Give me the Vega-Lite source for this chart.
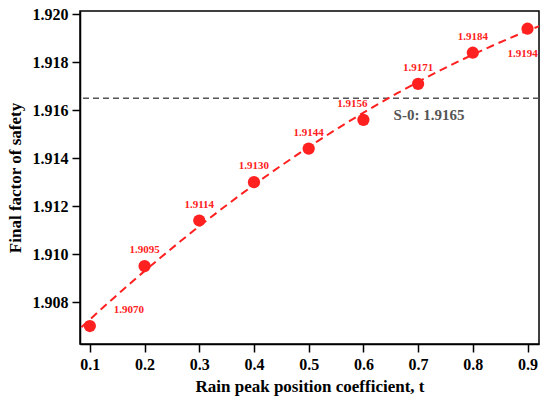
{
  "$schema": "https://vega.github.io/schema/vega-lite/v6.json",
  "width": 459,
  "height": 333,
  "autosize": "none",
  "padding": {"left": 80, "top": 11, "right": 11, "bottom": 60},
  "background": "white",
  "config": {
    "view": {"stroke": "black", "strokeWidth": 1.5},
    "font": "Liberation Serif",
    "axis": {
      "labelFont": "Liberation Serif", "labelFontWeight": "bold", "labelFontSize": 16, "labelColor": "black",
      "titleFont": "Liberation Serif", "titleFontWeight": "bold", "titleFontSize": 17, "titleColor": "black",
      "domainColor": "black", "domainWidth": 1.5, "tickColor": "black", "tickWidth": 1.5, "tickSize": 8,
      "grid": false
    }
  },
  "datasets": {
    "points": [
      {"t": 0.1, "fs": 1.9070},
      {"t": 0.2, "fs": 1.9095},
      {"t": 0.3, "fs": 1.9114},
      {"t": 0.4, "fs": 1.9130},
      {"t": 0.5, "fs": 1.9144},
      {"t": 0.6, "fs": 1.9156},
      {"t": 0.7, "fs": 1.9171},
      {"t": 0.8, "fs": 1.9184},
      {"t": 0.9, "fs": 1.9194}
    ],
    "ref": [{"label": "S-0: 1.9165", "fs": 1.9165, "t": 0.72}]
  },
  "data": {"name": "points"},
  "encoding": {
    "x": {"field": "t", "type": "quantitative", "scale": {"domain": [0.082, 0.921], "nice": false, "zero": false},
      "axis": {"values": [0.1,0.2,0.3,0.4,0.5,0.6,0.7,0.8,0.9], "format": ".1f", "title": "Rain peak position coefficient, t", "labelPadding": 4, "titlePadding": 6}},
    "y": {"field": "fs", "type": "quantitative", "scale": {"domain": [1.90625, 1.92014], "nice": false, "zero": false},
      "axis": {"values": [1.908,1.910,1.912,1.914,1.916,1.918,1.920], "format": ".3f", "title": "Final factor of safety", "labelPadding": 4, "titlePadding": 8}}
  },
  "layer": [
    {
      "data": {"name": "ref"},
      "mark": {"type": "rule", "color": "#555555", "strokeDash": [6, 4], "strokeWidth": 1.5},
      "encoding": {"x": null}
    },
    {
      "data": {"name": "ref"},
      "mark": {"type": "text", "color": "#555555", "fontSize": 15, "fontWeight": "bold", "font": "Liberation Serif", "dy": 17, "align": "center"},
      "encoding": {"text": {"field": "label"}}
    },
    {
      "transform": [{"regression": "fs", "on": "t", "method": "poly", "order": 2, "extent": [0.05, 0.95]}],
      "mark": {"type": "line", "color": "#ff2020", "strokeDash": [8, 5], "strokeWidth": 2, "clip": true}
    },
    {
      "mark": {"type": "circle", "color": "#ff2020", "opacity": 1, "size": 150}
    },
    {
      "transform": [{"filter": "datum.t > 0.15 && datum.t < 0.55 || datum.t > 0.65 && datum.t < 0.85"}],
      "mark": {"type": "text", "color": "#ff2020", "fontSize": 11, "fontWeight": "bold", "font": "Liberation Serif", "dy": -16},
      "encoding": {"text": {"field": "fs", "type": "quantitative", "format": ".4f"}}
    },
    {
      "transform": [{"filter": "datum.t < 0.15"}],
      "mark": {"type": "text", "color": "#ff2020", "fontSize": 11, "fontWeight": "bold", "font": "Liberation Serif", "dy": -16, "dx": 39},
      "encoding": {"text": {"field": "fs", "type": "quantitative", "format": ".4f"}}
    },
    {
      "transform": [{"filter": "datum.t > 0.55 && datum.t < 0.65"}],
      "mark": {"type": "text", "color": "#ff2020", "fontSize": 11, "fontWeight": "bold", "font": "Liberation Serif", "dy": -16, "dx": -11},
      "encoding": {"text": {"field": "fs", "type": "quantitative", "format": ".4f"}}
    },
    {
      "transform": [{"filter": "datum.t > 0.85"}],
      "mark": {"type": "text", "color": "#ff2020", "fontSize": 11, "fontWeight": "bold", "font": "Liberation Serif", "dy": 25, "dx": -5},
      "encoding": {"text": {"field": "fs", "type": "quantitative", "format": ".4f"}}
    }
  ]
}
